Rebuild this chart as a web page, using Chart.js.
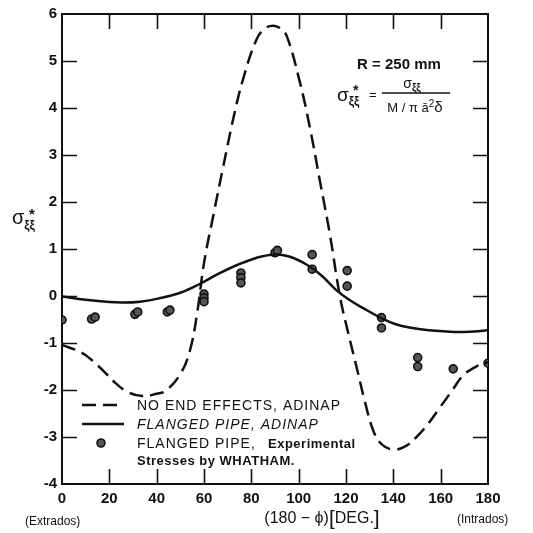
<!DOCTYPE html>
<html>
<head>
<meta charset="utf-8">
<script src="https://cdn.jsdelivr.net/npm/chart.js@4/dist/chart.umd.min.js"></script>
<style>
  html, body { margin: 0; padding: 0; background: #fff; }
  #wrap { width: 533px; height: 533px; }
</style>
</head>
<body>
<div id="wrap"><canvas id="chart" width="533" height="533"></canvas></div>
<script>
// --- data ---
const xTicks = [0, 20, 40, 60, 80, 100, 120, 140, 160, 180];
const yTicks = [-4, -3, -2, -1, 0, 1, 2, 3, 4, 5, 6];

// NO END EFFECTS, ADINAP (dashed)
const noEndX = [0, 8, 13, 18, 23, 28, 34, 40, 44, 50, 54, 57, 60, 64, 68, 72.4, 76.6, 82.3, 86, 89.3, 92, 94.9, 100.5, 104.8, 109, 113.2, 117.4, 121, 124.5, 128, 131.5, 135, 140, 145, 149.8, 155, 159.7, 165, 169.5, 175, 180];
const noEndY = [-1.04, -1.2, -1.38, -1.62, -1.87, -2.05, -2.13, -2.08, -2.01, -1.66, -1.17, -0.4, 0.7, 1.73, 2.72, 3.78, 4.63, 5.47, 5.7, 5.75, 5.7, 5.54, 4.55, 3.57, 2.44, 1.31, 0.0, -0.8, -1.52, -2.25, -2.86, -3.15, -3.27, -3.2, -3.0, -2.7, -2.37, -2.0, -1.69, -1.5, -1.41];

// FLANGED PIPE, ADINAP (solid)
const flangedX = [0, 10, 20, 26, 33, 41, 50, 58, 66, 74, 82, 89, 96, 104, 110, 116, 122, 128, 135, 141, 148, 155, 164, 172, 180];
const flangedY = [-0.01, -0.08, -0.13, -0.14, -0.12, -0.05, 0.07, 0.25, 0.47, 0.66, 0.81, 0.88, 0.84, 0.65, 0.42, 0.12, -0.1, -0.28, -0.47, -0.6, -0.68, -0.73, -0.76, -0.76, -0.73];

// FLANGED PIPE, Experimental Stresses by WHATHAM
const expX = [0, 12.5, 14, 30.8, 32, 44.5, 45.6, 60, 60, 60, 75.6, 75.6, 75.6, 90, 91, 105.7, 105.7, 120.5, 120.5, 135, 135, 150.3, 150.3, 165.3, 180];
const expY = [-0.51, -0.49, -0.45, -0.39, -0.34, -0.34, -0.3, 0.04, -0.04, -0.12, 0.49, 0.39, 0.28, 0.92, 0.97, 0.88, 0.57, 0.54, 0.21, -0.46, -0.68, -1.31, -1.5, -1.55, -1.43];

const F = '"Liberation Sans", Arial, sans-serif';
const INK = '#111';

function pts(xs, ys) {
  return xs.map((x, i) => ({ x: x, y: ys[i] }));
}

// draw a row of text pieces (for sub/superscripts); returns total width
function runs(ctx, parts, x, y, align) {
  let w = 0;
  parts.forEach(p => { ctx.font = p.font; w += ctx.measureText(p.t).width + (p.gap || 0); });
  let cx = align === 'center' ? x - w / 2 : x;
  ctx.textAlign = 'left';
  ctx.textBaseline = 'alphabetic';
  parts.forEach(p => {
    ctx.font = p.font;
    ctx.fillText(p.t, cx, y + (p.dy || 0));
    cx += ctx.measureText(p.t).width + (p.gap || 0);
  });
  return w;
}

const framePlugin = {
  id: 'frame',
  beforeDatasetsDraw(chart) {
    const ctx = chart.ctx;
    const a = chart.chartArea;
    const xs = chart.scales.x, ys = chart.scales.y;
    const tl = 15;
    ctx.save();
    ctx.strokeStyle = INK;
    ctx.lineWidth = 2;
    ctx.strokeRect(a.left, a.top, a.right - a.left, a.bottom - a.top);
    ctx.beginPath();
    xTicks.slice(1, -1).forEach(v => {
      const px = Math.round(xs.getPixelForValue(v)) + 0.5;
      ctx.moveTo(px, a.bottom); ctx.lineTo(px, a.bottom - tl);
      ctx.moveTo(px, a.top); ctx.lineTo(px, a.top + tl);
    });
    yTicks.slice(1, -1).forEach(v => {
      const py = Math.round(ys.getPixelForValue(v)) + 0.5;
      ctx.moveTo(a.left, py); ctx.lineTo(a.left + tl, py);
      ctx.moveTo(a.right, py); ctx.lineTo(a.right - tl, py);
    });
    ctx.lineWidth = 1.6;
    ctx.stroke();
    ctx.restore();
  },
  afterDraw(chart) {
    const ctx = chart.ctx;
    ctx.save();
    ctx.fillStyle = INK;

    // y axis title
    runs(ctx, [
      { t: 'σ', font: '20px ' + F },
      { t: 'ξξ', font: 'bold 12px ' + F, dy: 5 }
    ], 12, 224, 'left');
    ctx.font = 'bold 15px ' + F;
    ctx.fillText('*', 29, 219);

    // x axis captions
    ctx.font = '12px ' + F;
    ctx.textAlign = 'left';
    ctx.fillText('(Extrados)', 25, 525);
    ctx.fillText('(Intrados)', 457, 523);
    runs(ctx, [
      { t: '(180 − ϕ)', font: '16px ' + F },
      { t: '[', font: '21px ' + F, dy: 2 },
      { t: 'DEG.', font: '16px ' + F },
      { t: ']', font: '21px ' + F, dy: 2 }
    ], 322, 523, 'center');

    // formula box
    ctx.font = 'bold 15px ' + F;
    ctx.textAlign = 'center';
    ctx.fillText('R = 250 mm', 399, 69);
    runs(ctx, [
      { t: 'σ', font: '19px ' + F },
      { t: 'ξξ', font: 'bold 12px ' + F, dy: 4 }
    ], 337, 101, 'left');
    ctx.font = 'bold 14px ' + F;
    ctx.textAlign = 'left';
    ctx.fillText('*', 353, 95);
    ctx.font = '13px ' + F;
    ctx.fillText('=', 369, 99);
    ctx.strokeStyle = INK;
    ctx.lineWidth = 1.4;
    ctx.beginPath();
    ctx.moveTo(382, 93); ctx.lineTo(450, 93);
    ctx.stroke();
    runs(ctx, [
      { t: 'σ', font: '14px ' + F },
      { t: 'ξξ', font: 'bold 10px ' + F, dy: 3 }
    ], 412, 88, 'center');
    runs(ctx, [
      { t: 'M / π ', font: '13px ' + F },
      { t: 'ā', font: '13px ' + F },
      { t: '2', font: '10px ' + F, dy: -5 },
      { t: 'δ', font: '15px ' + F }
    ], 415, 112, 'center');

    // legend
    const ds = chart.data.datasets;
    ctx.lineWidth = 2.5;
    ctx.strokeStyle = INK;
    ctx.beginPath();
    ctx.setLineDash(ds[0].borderDash);
    ctx.moveTo(82, 405); ctx.lineTo(124, 405);
    ctx.stroke();
    ctx.setLineDash([]);
    ctx.beginPath();
    ctx.moveTo(82, 424); ctx.lineTo(124, 424);
    ctx.stroke();
    ctx.beginPath();
    ctx.arc(101, 443, ds[2].pointRadius, 0, Math.PI * 2);
    ctx.fillStyle = ds[2].backgroundColor;
    ctx.fill();
    ctx.lineWidth = ds[2].borderWidth;
    ctx.strokeStyle = ds[2].borderColor;
    ctx.stroke();

    ctx.fillStyle = INK;
    ctx.textAlign = 'left';
    ctx.font = '14px ' + F;
    ctx.letterSpacing = '1px';
    ctx.fillText('NO END EFFECTS, ADINAP', 137, 410);
    ctx.font = 'italic 14px ' + F;
    ctx.fillText('FLANGED PIPE, ADINAP', 137, 429);
    ctx.font = '14px ' + F;
    ctx.fillText('FLANGED PIPE,', 137, 448);
    ctx.letterSpacing = '0.5px';
    ctx.font = 'bold 13px ' + F;
    ctx.fillText('Experimental', 268, 448);
    ctx.fillText('Stresses by WHATHAM.', 137, 465);
    ctx.restore();
  }
};

new Chart(document.getElementById('chart'), {
  type: 'scatter',
  data: {
    datasets: [
      {
        label: 'NO END EFFECTS, ADINAP',
        type: 'line',
        data: pts(noEndX, noEndY),
        borderColor: INK,
        borderWidth: 2.5,
        borderDash: [14, 7],
        pointRadius: 0,
        fill: false,
        tension: 0.4
      },
      {
        label: 'FLANGED PIPE, ADINAP',
        type: 'line',
        data: pts(flangedX, flangedY),
        borderColor: INK,
        borderWidth: 2.5,
        pointRadius: 0,
        fill: false,
        tension: 0.4
      },
      {
        label: 'FLANGED PIPE, Experimental Stresses by WHATHAM.',
        data: pts(expX, expY),
        pointRadius: 4,
        backgroundColor: '#555',
        borderColor: '#111',
        borderWidth: 1.6
      }
    ]
  },
  options: {
    responsive: false,
    animation: false,
    devicePixelRatio: 1,
    layout: { padding: { top: 12, right: 45, left: 0, bottom: 0 } },
    plugins: { legend: { display: false }, tooltip: { enabled: false } },
    scales: {
      x: {
        type: 'linear',
        min: 0, max: 180,
        grid: { display: false, drawTicks: false },
        border: { display: false },
        afterFit: s => { s.height = 49; },
        afterBuildTicks: s => { s.ticks = xTicks.map(v => ({ value: v })); },
        ticks: { padding: 6, color: INK, font: { family: F, size: 15, weight: 'bold' }, maxRotation: 0 }
      },
      y: {
        type: 'linear',
        min: -4, max: 6,
        grid: { display: false, drawTicks: false },
        border: { display: false },
        afterFit: s => { s.width = 62; },
        afterBuildTicks: s => { s.ticks = yTicks.map(v => ({ value: v })); },
        ticks: { padding: 5, color: INK, font: { family: F, size: 15, weight: 'bold' } }
      }
    }
  },
  plugins: [framePlugin]
});
</script>
</body>
</html>
